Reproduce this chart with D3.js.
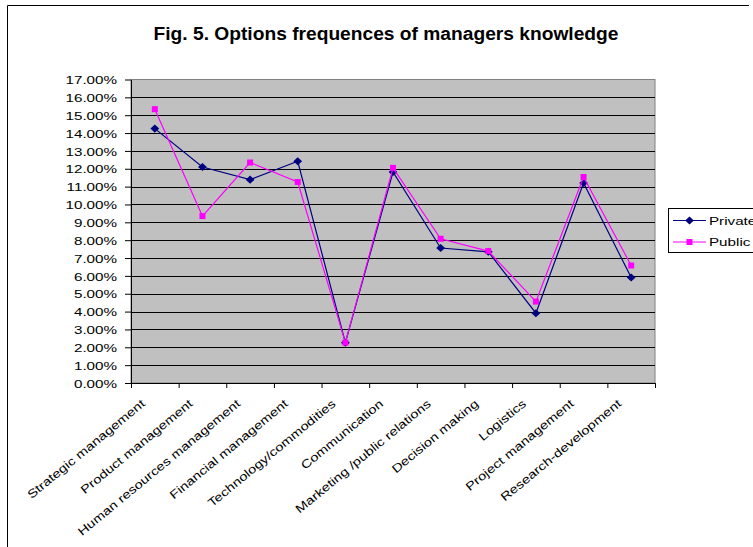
<!DOCTYPE html>
<html lang="en">
<head>
<meta charset="UTF-8">
<title>Options frequences of managers knowledge</title>
<script src="https://d3js.org/d3.v7.min.js"></script>
<style>
  body { margin: 0; background: #fff; }
  text { font-family: "Liberation Sans", Arial, sans-serif; fill: #000; }
</style>
</head>
<body>
<script>
// chart data
const categories = ["Strategic management", "Product management", "Human resources management",
  "Financial management", "Technology/commodities", "Communication", "Marketing /public relations",
  "Decision making", "Logistics", "Project management", "Research-development"];
const privateVals = [0.1425, 0.121, 0.1139, 0.1242, 0.0226, 0.1182, 0.0756, 0.0735, 0.0391, 0.112, 0.0591];
const publicVals = [0.1534, 0.0935, 0.1235, 0.1126, 0.0226, 0.1205, 0.0808, 0.0739, 0.0456, 0.1154, 0.0658];
const seriesNames = ["Private", "Public"];
const yTicks = d3.range(0, 18).map(d => d / 100);

const W = 753, H = 547;
const plot = {left: 131, right: 655, top: 79.5, bottom: 383};
const stretch = 1.3; // excel text looks wide
const catStretch = 1.26;

var svg = d3.select("body").append("svg")
    .attr("width", W)
    .attr("height", H);

// outer chart frame (only left and top edges show)
svg.append("path")
    .attr("d", "M7.5," + H + "V5.5H749")
    .attr("fill", "none")
    .attr("stroke", "#000")
    .attr("stroke-width", 1);

svg.append("text")
    .attr("x", 386)
    .attr("y", 40)
    .attr("text-anchor", "middle")
    .style("font-weight", "bold")
    .style("font-size", "19.2px")
    .text("Fig. 5. Options frequences of managers knowledge");

var y = d3.scaleLinear().domain([0, 0.17]).range([plot.bottom, plot.top]);
var x = d3.scaleBand().domain(categories).range([plot.left, plot.right]);
var xTick = d3.scaleLinear().domain([0, categories.length]).range([plot.left, plot.right]);

// plot background
svg.append("rect")
    .attr("x", plot.left)
    .attr("y", plot.top)
    .attr("width", plot.right - plot.left)
    .attr("height", plot.bottom - plot.top)
    .attr("fill", "#c0c0c0")
    .attr("stroke", "#808080")
    .attr("stroke-width", 1);

// gridlines
svg.selectAll(".grid")
    .data(yTicks.slice(1, -1))
    .enter()
    .append("line")
    .attr("class", "grid")
    .attr("x1", plot.left)
    .attr("x2", plot.right)
    .attr("y1", d => Math.round(y(d)) + 0.5)
    .attr("y2", d => Math.round(y(d)) + 0.5)
    .attr("stroke", "#000")
    .attr("stroke-width", 1);

// y axis
var yAxis = svg.append("g")
    .attr("transform", "translate(" + plot.left + ",0)")
    .call(d3.axisLeft(y).tickValues(yTicks).tickFormat(d3.format(".2%")).tickSize(6).tickSizeOuter(0));
yAxis.select(".domain").attr("stroke", "#000");
yAxis.selectAll("text")
    .attr("x", -14 / stretch)
    .attr("dy", "0.36em")
    .attr("transform", "scale(" + stretch + ",1)")
    .style("font-size", "11.7px")
    .style("font-family", "'Liberation Sans', Arial, sans-serif");

// x axis, ticks between categories
var xAxis = svg.append("g")
    .attr("transform", "translate(0," + plot.bottom + ")")
    .call(d3.axisBottom(xTick).ticks(categories.length).tickFormat("").tickSize(5).tickSizeOuter(0));
xAxis.select(".domain").attr("stroke", "#000");

svg.selectAll(".cat")
    .data(categories)
    .enter()
    .append("text")
    .attr("class", "cat")
    .attr("text-anchor", "end")
    .attr("transform", d => "translate(" + (x(d) + x.bandwidth() / 2 - 9) + "," + (plot.bottom + 22) + ") rotate(-39.5) scale(" + catStretch + ",1)")
    .style("font-size", "11.7px")
    .text(d => d);

// series
var series = [
  {name: seriesNames[0], values: privateVals, color: "#000080", marker: d3.symbolDiamond, size: 34, sx: 1.4, sy: 0.75},
  {name: seriesNames[1], values: publicVals, color: "#ff00ff", marker: d3.symbolSquare, size: 36, sx: 1, sy: 1}
];

var line = d3.line()
    .x((d, i) => x(categories[i]) + x.bandwidth() / 2)
    .y(d => y(d));

series.forEach(function(s) {
  svg.append("path")
      .datum(s.values)
      .attr("d", line)
      .attr("fill", "none")
      .attr("stroke", s.color)
      .attr("stroke-width", 1.2);

  svg.selectAll(".pt-" + s.name)
      .data(s.values)
      .enter()
      .append("path")
      .attr("d", d3.symbol().type(s.marker).size(s.size))
      .attr("transform", (d, i) => "translate(" + (x(categories[i]) + x.bandwidth() / 2) + "," + y(d) + ") scale(" + s.sx + "," + s.sy + ")")
      .attr("fill", s.color);
});

// legend
var legend = svg.append("g").attr("transform", "translate(668,208)");
legend.append("rect")
    .attr("x", 0.5)
    .attr("y", 0.5)
    .attr("width", 100)
    .attr("height", 44)
    .attr("fill", "#fff")
    .attr("stroke", "#000")
    .attr("stroke-width", 1);

var items = legend.selectAll(".legend-item")
    .data(series)
    .enter()
    .append("g")
    .attr("class", "legend-item")
    .attr("transform", (d, i) => "translate(0," + (12.5 + i * 21.5) + ")");

items.append("line")
    .attr("x1", 5)
    .attr("x2", 38)
    .attr("stroke", d => d.color)
    .attr("stroke-width", 1.2);
items.append("path")
    .attr("d", d => d3.symbol().type(d.marker).size(d.size)())
    .attr("transform", d => "translate(21.5,0) scale(" + d.sx + "," + d.sy + ")")
    .attr("fill", d => d.color);
items.append("text")
    .attr("x", 41 / stretch)
    .attr("dy", "0.36em")
    .attr("transform", "scale(" + stretch + ",1)")
    .style("font-size", "11.7px")
    .text(d => d.name);
</script>
</body>
</html>
